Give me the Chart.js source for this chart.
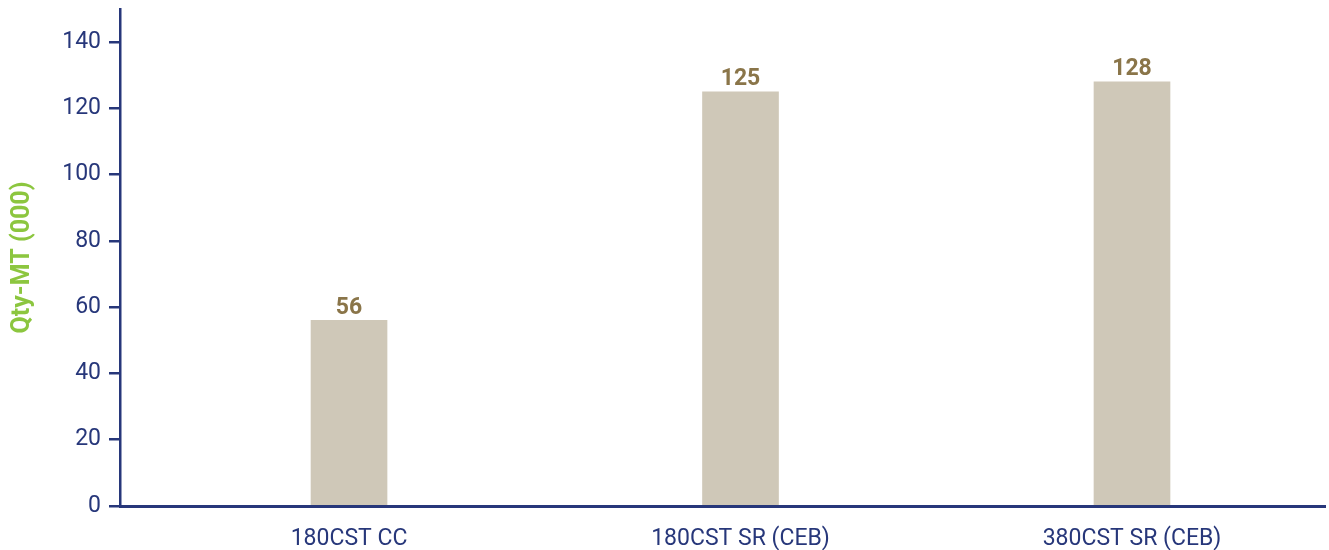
<!DOCTYPE html>
<html>
<head>
<meta charset="utf-8">
<script src="https://cdn.jsdelivr.net/npm/chart.js@4/dist/chart.umd.min.js"></script>
<style>
  html, body { margin: 0; padding: 0; background: #fff; }
  #wrap { width: 1329px; height: 550px; }
</style>
</head>
<body>
<div id="wrap"><canvas id="grafico"></canvas></div>
<script>
const categorias = ['180CST CC', '180CST SR (CEB)', '380CST SR (CEB)'];
const quantidades = [56, 125, 128];
const ticksY = [0, 20, 40, 60, 80, 100, 120, 140];

const azul = '#27377a';
const verde = '#8cc63f';
const marrom = '#8a7549';
const bege = '#cfc8b8';

// escreve o valor em cima de cada barra
const rotulosValor = {
  id: 'rotulosValor',
  afterDatasetsDraw(chart) {
    const ctx = chart.ctx;
    const meta = chart.getDatasetMeta(0);
    ctx.save();
    ctx.font = 'bold 23px Roboto';
    ctx.fillStyle = marrom;
    ctx.textAlign = 'center';
    ctx.textBaseline = 'bottom';
    meta.data.forEach((barra, i) => {
      ctx.fillText(String(quantidades[i]), barra.x, barra.y - 1);
    });
    ctx.restore();
  }
};

const ctx = document.getElementById('grafico').getContext('2d');

new Chart(ctx, {
  type: 'bar',
  data: {
    datasets: [{
      data: quantidades.map((v, i) => ({ x: i, y: v })),
      backgroundColor: bege,
      borderWidth: 0,
      barThickness: 76
    }]
  },
  options: {
    responsive: true,
    maintainAspectRatio: false,
    animation: false,
    layout: { padding: { top: 0, right: 4, left: 0, bottom: 0 } },
    scales: {
      x: {
        type: 'linear',
        offset: false,
        min: -0.585,
        max: 2.493,
        afterBuildTicks(scale) {
          scale.ticks = categorias.map((c, i) => ({ value: i }));
        },
        afterFit(scale) { scale.height = 44; },
        grid: { display: false },
        border: { display: true, color: azul, width: 3 },
        ticks: {
          color: azul,
          font: { family: 'Roboto', size: 23 },
          padding: 11,
          maxRotation: 0,
          autoSkip: false,
          callback: (v) => categorias[v] ?? ''
        }
      },
      y: {
        min: 0,
        max: 150,
        afterBuildTicks(scale) {
          scale.ticks = ticksY.map(v => ({ value: v }));
        },
        afterFit(scale) {
          scale.width = 120;
          scale.paddingTop = 9;
          scale.paddingBottom = 0;
        },
        grid: {
          drawOnChartArea: false,
          drawTicks: true,
          tickLength: 11,
          color: azul,
          lineWidth: 2.5
        },
        border: { display: true, color: azul, width: 2.5 },
        ticks: {
          color: azul,
          font: { family: 'Roboto', size: 23 },
          padding: 8
        },
        title: {
          display: true,
          text: 'Qty-MT (000)',
          color: verde,
          font: { family: 'Roboto', size: 25, weight: 'bold' },
          padding: { top: 8, bottom: 0 }
        }
      }
    },
    plugins: {
      legend: { display: false },
      tooltip: { enabled: false }
    }
  },
  plugins: [rotulosValor]
});
</script>
</body>
</html>
